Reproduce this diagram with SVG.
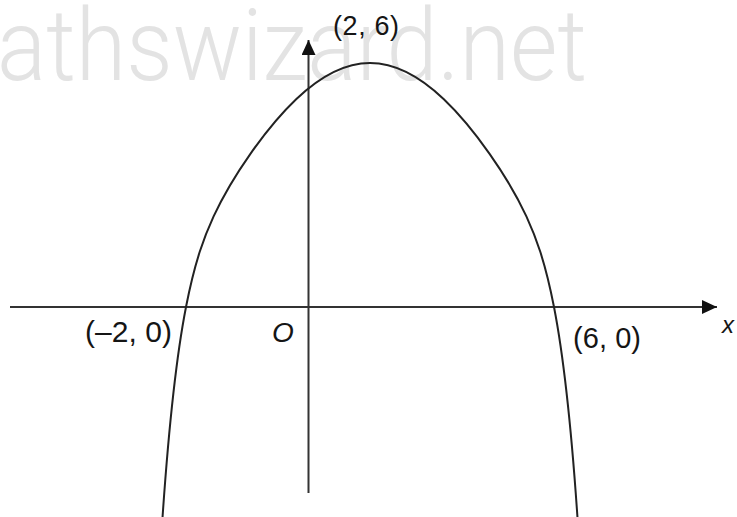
<svg xmlns="http://www.w3.org/2000/svg" width="737" height="517" viewBox="0 0 737 517">
<style>
.wm{font-family:Roboto,"Liberation Sans",Arial,sans-serif;font-weight:300;font-size:100px;fill:#e3e3e3}
.lbl{font-family:"Liberation Sans",Arial,sans-serif;fill:#151515}
.it{font-style:italic}
.axis{stroke:#333;stroke-width:2;fill:none}
.curve{stroke:#222;stroke-width:2;fill:none}
</style>
<defs>
<marker id="arr" viewBox="0 0 15 14" refX="15" refY="7" markerWidth="15" markerHeight="14" markerUnits="userSpaceOnUse" orient="auto">
<path d="M0,0 L15,7 L0,14 Z" fill="#111"/>
</marker>
</defs>
<rect width="737" height="517" fill="#fff"/>
<text class="wm" x="-3" y="80" textLength="590" lengthAdjust="spacingAndGlyphs">athswizard.net</text>
<g id="connectors">
<line id="x-axis" class="axis" x1="10" y1="307" x2="717" y2="307" marker-end="url(#arr)"/>
<line id="y-axis" class="axis" x1="308.5" y1="493" x2="308.5" y2="40" marker-end="url(#arr)"/>
</g>
<g id="curve">
<path class="curve" d="M162.08,524.06 C170.05,404.66 178.03,347.81 186,307 C195.2,259.9 204.4,236.45 213.6,216.45 C225.87,189.79 238.13,171.23 250.4,153.8 C265.73,132.02 281.07,113.57 296.4,99 C320.93,75.69 345.47,63 370,63 C394.53,63 419.07,75.69 443.6,99 C458.93,113.57 474.27,132.02 489.6,153.8 C501.87,171.23 514.13,189.79 526.4,216.45 C535.6,236.45 544.8,259.9 554,307 C561.97,347.81 569.95,404.66 577.92,524.06"/>
</g>
<g id="label-peak"><text class="lbl" x="333" y="35" font-size="27" textLength="66">(2, 6)</text></g>
<g id="label-left-root"><text class="lbl" x="85" y="342" font-size="30" textLength="87">(–2, 0)</text></g>
<g id="label-origin"><text class="lbl it" x="272" y="342" font-size="28">O</text></g>
<g id="label-right-root"><text class="lbl" x="573" y="348" font-size="29" textLength="68">(6, 0)</text></g>
<g id="label-x"><text class="lbl it" x="722" y="333" font-size="24">x</text></g>
</svg>
